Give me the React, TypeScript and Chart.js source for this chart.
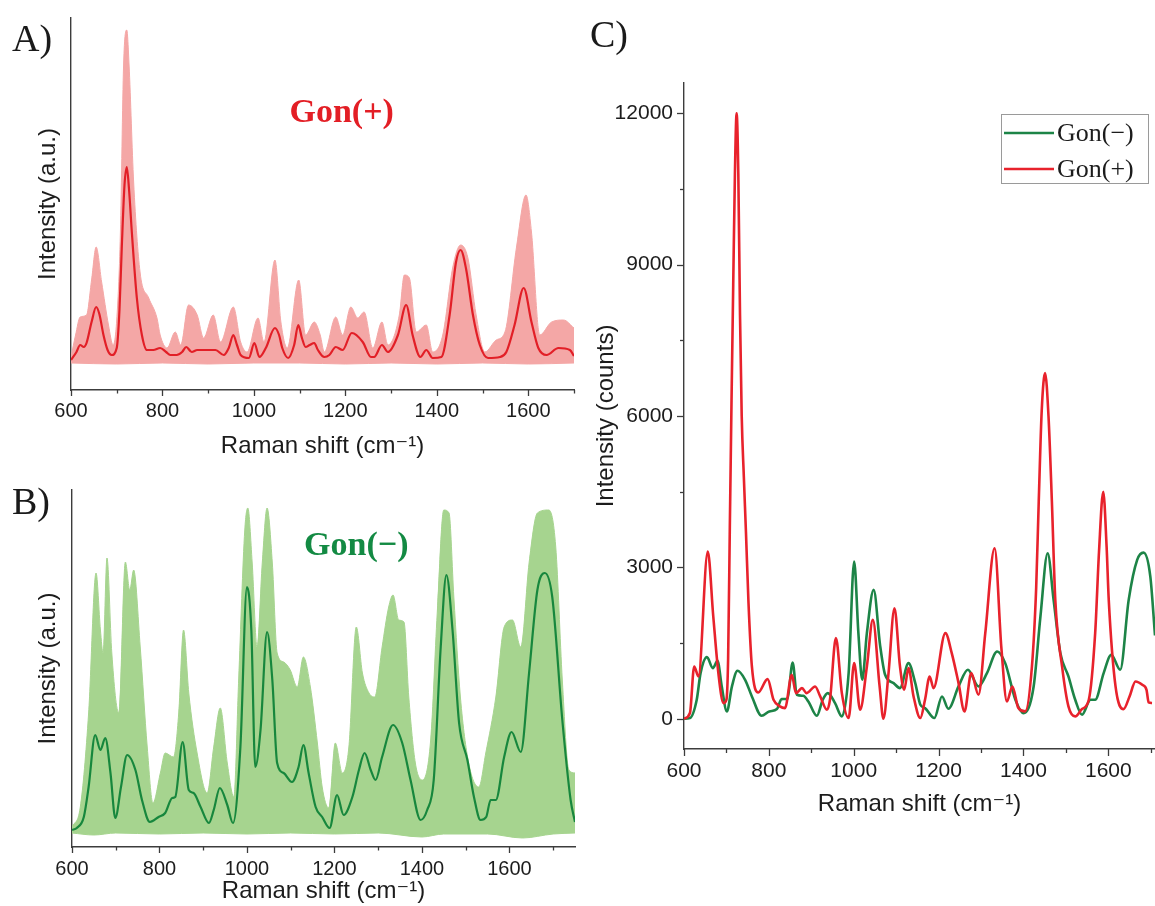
import React, { useEffect, useRef } from 'react';
import { Chart, registerables } from 'chart.js';

Chart.register(...registerables);

// ---------------- Panel A : Gon(+) individual spectra (a.u.) ----------------
const plusMeanShift = [600, 612, 620, 628, 634, 645, 655, 662, 671, 680, 689, 700, 706, 711, 717, 722, 727, 733, 744, 755, 766, 780, 795, 808, 817, 831, 843, 852, 864, 876, 898, 916, 934, 945, 955, 963, 971, 989, 1001, 1012, 1026, 1046, 1055, 1062, 1075, 1088, 1097, 1105, 1113, 1122, 1132, 1140, 1154, 1165, 1179, 1194, 1214, 1238, 1256, 1263, 1280, 1293, 1315, 1333, 1347, 1364, 1377, 1391, 1410, 1428, 1442, 1452, 1464, 1479, 1494, 1512, 1538, 1552, 1570, 1590, 1607, 1622, 1640, 1666, 1691, 1700];
const plusMeanInt = [0, 8, 15, 13, 17, 38, 53, 46, 25, 10, 5, 12, 50, 112, 175, 193, 170, 128, 62, 25, 10, 10, 12, 8, 5, 5, 8, 13, 8, 10, 10, 10, 5, 12, 25, 15, 5, 2, 17, 3, 12, 32, 25, 12, 2, 15, 35, 22, 13, 15, 17, 10, 3, 5, 13, 10, 27, 18, 3, 3, 15, 8, 25, 55, 25, 3, 10, 2, 3, 45, 98, 110, 91, 45, 15, 2, 3, 8, 35, 72, 38, 12, 5, 12, 10, 4];
const plusUpperShift = [600, 610, 620, 634, 645, 655, 667, 682, 692, 700, 708, 715, 722, 727, 737, 751, 770, 788, 795, 810, 828, 840, 857, 876, 890, 911, 927, 955, 971, 985, 1009, 1022, 1046, 1059, 1073, 1098, 1113, 1132, 1145, 1154, 1179, 1194, 1212, 1227, 1241, 1260, 1280, 1293, 1318, 1329, 1340, 1355, 1377, 1391, 1413, 1435, 1452, 1468, 1486, 1505, 1530, 1549, 1574, 1595, 1607, 1625, 1651, 1677, 1700];
const plusUpperInt = [3, 25, 43, 45, 80, 113, 78, 35, 15, 40, 127, 295, 330, 295, 178, 88, 62, 42, 25, 12, 28, 15, 55, 45, 22, 45, 18, 53, 18, 8, 42, 18, 100, 38, 12, 80, 25, 38, 25, 8, 43, 25, 53, 42, 48, 12, 38, 15, 45, 85, 82, 28, 35, 8, 25, 93, 115, 102, 45, 8, 20, 28, 112, 165, 128, 25, 38, 40, 32];
const plusLowerShift = [600, 700, 800, 900, 1000, 1100, 1200, 1300, 1400, 1500, 1600, 1700];
const plusLowerInt = [-3, -4, -3, -4, -3, -3, -4, -3, -4, -3, -4, -3];

// ---------------- Panel B : Gon(−) individual spectra (a.u.) ----------------
const minusMeanShift = [600, 611, 627, 638, 653, 665, 676, 688, 699, 712, 726, 745, 760, 778, 798, 813, 829, 836, 853, 867, 878, 894, 913, 924, 938, 955, 968, 985, 1000, 1010, 1019, 1031, 1046, 1058, 1069, 1084, 1103, 1118, 1129, 1141, 1157, 1172, 1189, 1206, 1221, 1241, 1256, 1269, 1283, 1294, 1309, 1334, 1355, 1374, 1397, 1412, 1427, 1443, 1456, 1470, 1485, 1504, 1519, 1534, 1547, 1557, 1569, 1588, 1605, 1626, 1645, 1664, 1681, 1698, 1721, 1740, 1750];
const minusMeanInt = [0, 2, 13, 43, 95, 80, 92, 57, 12, 43, 75, 60, 30, 8, 13, 17, 32, 33, 88, 40, 37, 23, 7, 20, 42, 25, 7, 83, 243, 200, 63, 100, 198, 150, 67, 57, 48, 63, 85, 57, 23, 13, 2, 35, 15, 33, 60, 77, 60, 50, 73, 105, 87, 50, 10, 20, 50, 183, 255, 200, 107, 70, 33, 10, 13, 30, 30, 73, 98, 78, 157, 240, 257, 233, 110, 30, 8];
const minusUpperShift = [600, 619, 638, 655, 665, 671, 680, 691, 707, 722, 732, 741, 756, 772, 785, 802, 813, 832, 844, 855, 867, 886, 909, 924, 939, 955, 970, 981, 995, 1002, 1012, 1023, 1035, 1046, 1058, 1069, 1084, 1099, 1115, 1129, 1145, 1161, 1172, 1187, 1202, 1218, 1233, 1250, 1264, 1279, 1292, 1309, 1324, 1334, 1347, 1359, 1370, 1385, 1401, 1420, 1435, 1450, 1462, 1473, 1488, 1507, 1530, 1546, 1569, 1588, 1607, 1626, 1645, 1664, 1690, 1706, 1721, 1736, 1750];
const minusUpperInt = [3, 23, 117, 257, 200, 177, 272, 177, 117, 268, 240, 260, 183, 83, 27, 57, 77, 73, 117, 200, 137, 77, 37, 83, 122, 67, 33, 150, 300, 322, 267, 183, 267, 322, 267, 177, 168, 160, 143, 173, 143, 87, 43, 22, 87, 57, 83, 203, 157, 137, 133, 183, 223, 235, 210, 208, 133, 67, 50, 90, 217, 320, 317, 233, 133, 67, 43, 77, 133, 203, 210, 183, 267, 317, 320, 283, 150, 60, 57];
const minusLowerShift = [600, 650, 700, 800, 900, 1000, 1100, 1200, 1300, 1400, 1450, 1550, 1630, 1700, 1750];
const minusLowerInt = [-3, -5, -3, -4, -3, -4, -3, -4, -3, -7, -4, -4, -8, -4, -3];

// ---------------- Panel C : average spectra (counts) ----------------
const cMinusShift = [600, 614, 630, 639, 654, 668, 679, 689, 701, 713, 726, 744, 760, 783, 801, 819, 830, 844, 856, 866, 881, 893, 913, 927, 939, 956, 972, 988, 1001, 1011, 1020, 1031, 1047, 1062, 1074, 1094, 1109, 1129, 1145, 1157, 1168, 1190, 1208, 1223, 1247, 1269, 1294, 1314, 1338, 1357, 1381, 1400, 1424, 1440, 1457, 1471, 1487, 1506, 1522, 1538, 1558, 1569, 1589, 1607, 1628, 1648, 1668, 1683, 1699, 1710];
const cMinusCounts = [0, 13, 376, 904, 1221, 1003, 1148, 640, 145, 640, 950, 772, 442, 59, 145, 191, 389, 396, 1115, 475, 455, 343, 59, 376, 508, 310, 46, 904, 3115, 1696, 772, 1696, 2554, 1465, 871, 706, 607, 1102, 706, 277, 211, 13, 442, 198, 640, 970, 640, 904, 1333, 1102, 376, 112, 640, 2026, 3280, 2356, 1300, 838, 376, 79, 376, 376, 904, 1267, 970, 2356, 3148, 3293, 2818, 1650];
const cPlusShift = [600, 614, 624, 634, 656, 669, 681, 693, 700, 704, 708, 712, 716, 720, 724, 728, 732, 736, 741, 746, 752, 760, 775, 797, 811, 826, 838, 854, 864, 878, 889, 909, 921, 937, 944, 958, 972, 988, 1001, 1015, 1031, 1045, 1061, 1070, 1082, 1096, 1109, 1119, 1129, 1141, 1157, 1168, 1179, 1188, 1216, 1231, 1247, 1261, 1277, 1294, 1310, 1332, 1348, 1361, 1374, 1388, 1404, 1420, 1430, 1436, 1443, 1451, 1459, 1467, 1475, 1491, 1506, 1522, 1538, 1554, 1569, 1578, 1588, 1596, 1601, 1617, 1636, 1650, 1664, 1680, 1690, 1695, 1703];
const cPlusCounts = [0, 113, 1036, 838, 3313, 2026, 904, 310, 380, 1200, 3800, 6300, 8600, 10800, 12000, 10800, 8000, 6000, 4800, 3700, 2300, 1036, 521, 785, 376, 244, 211, 871, 508, 607, 508, 640, 442, 178, 376, 1597, 508, 13, 1102, 178, 1036, 1960, 640, 0, 904, 2191, 1036, 574, 1003, 442, 13, 376, 838, 607, 1696, 1300, 706, 145, 904, 475, 1696, 3379, 1399, 343, 640, 211, 145, 1036, 2600, 4300, 6100, 6850, 6000, 4300, 2356, 1036, 244, 46, 191, 376, 1696, 3300, 4500, 3400, 2356, 640, 191, 442, 739, 673, 574, 323, 310];

// ---------------- ticks ----------------
const xTickValues = [600, 700, 800, 900, 1000, 1100, 1200, 1300, 1400, 1500, 1600, 1700];
const xTickLabels = [600, 800, 1000, 1200, 1400, 1600];
const yTickValuesC = [0, 1500, 3000, 4500, 6000, 7500, 9000, 10500, 12000];
const yTickLabelsC = [0, 3000, 6000, 9000, 12000];

const pts = (xs: number[], ys: number[]) => xs.map((x, i) => ({ x, y: ys[i] }));

const SANS = "'Liberation Sans', Arial, 'DejaVu Sans', sans-serif";
const SERIF = "'Liberation Serif', 'Times New Roman', 'DejaVu Serif', serif";
const AXIS = '#3c3c3c';
const TXT = '#1c1c1c';

function tickMarks(specs: any[]) {
  return {
    id: 'tickMarks',
    afterDraw(chart: any) {
      const ctx = chart.ctx;
      ctx.save();
      ctx.strokeStyle = AXIS;
      ctx.lineWidth = 1.3;
      for (const s of specs) {
        const scale = chart.scales[s.id];
        for (const t of scale.ticks) {
          const v = t.value;
          const len = s.labels.includes(v) ? s.major : s.minor;
          const p = Math.round(scale.getPixelForValue(v)) + 0.5;
          ctx.beginPath();
          if (scale.isHorizontal()) {
            ctx.moveTo(p, scale.top);
            ctx.lineTo(p, scale.top + len);
          } else {
            ctx.moveTo(scale.right, p);
            ctx.lineTo(scale.right - len, p);
          }
          ctx.stroke();
        }
      }
      ctx.restore();
    },
  };
}

function annotation(text: string, xv: number, yv: number, color: string, font: string) {
  return {
    id: 'annotation',
    afterDatasetsDraw(chart: any) {
      const ctx = chart.ctx;
      ctx.save();
      ctx.font = font;
      ctx.fillStyle = color;
      ctx.textAlign = 'center';
      ctx.textBaseline = 'middle';
      ctx.fillText(text, chart.scales.x.getPixelForValue(xv), chart.scales.y.getPixelForValue(yv));
      ctx.restore();
    },
  };
}

const legendC = {
  id: 'legendC',
  afterDraw(chart: any) {
    const ctx = chart.ctx;
    const { right, top } = chart.chartArea;
    const boxW = 147;
    const boxH = 69;
    const bx = right - 7 - boxW;
    const by = top + 31;
    ctx.save();
    ctx.fillStyle = '#ffffff';
    ctx.fillRect(bx, by, boxW, boxH);
    ctx.strokeStyle = '#9a9a9a';
    ctx.lineWidth = 1;
    ctx.strokeRect(bx + 0.5, by + 0.5, boxW, boxH);
    ctx.font = `26px ${SERIF}`;
    ctx.textBaseline = 'middle';
    ctx.textAlign = 'left';
    chart.data.datasets.forEach((ds: any, i: number) => {
      const y = by + 19 + i * 36;
      ctx.strokeStyle = ds.borderColor;
      ctx.lineWidth = 2.5;
      ctx.beginPath();
      ctx.moveTo(bx + 3, y);
      ctx.lineTo(bx + 53, y);
      ctx.stroke();
      ctx.fillStyle = TXT;
      ctx.fillText(ds.label, bx + 56, y + 1);
    });
    ctx.restore();
  },
};

function xScale(min: number, max: number, height: number, fontSize: number, pad: number, titlePad: number) {
  return {
    type: 'linear',
    min,
    max,
    afterBuildTicks: (s: any) => {
      s.ticks = xTickValues.map((value) => ({ value }));
    },
    afterFit: (s: any) => { s.height = height; },
    grid: { display: false, drawTicks: false },
    border: { display: true, color: AXIS, width: 1.4 },
    ticks: {
      autoSkip: false,
      maxRotation: 0,
      minRotation: 0,
      padding: pad,
      color: TXT,
      font: { family: SANS, size: fontSize },
      callback: (v: any) => (xTickLabels.includes(v) ? String(v) : ''),
    },
    title: {
      display: true,
      text: 'Raman shift (cm⁻¹)',
      color: TXT,
      font: { family: SANS, size: 24 },
      padding: { top: 0, bottom: titlePad },
    },
  };
}

function bandConfig(
  meanX: number[], meanY: number[], upX: number[], upY: number[], loX: number[], loY: number[],
  lineColor: string, bandColor: string, xMax: number, yMin: number, yMax: number,
  padding: any, yWidth: number, xHeight: number, tickPad: number, xTitlePad: number,
  plugins: any[]
) {
  return {
    type: 'line',
    data: {
      datasets: [
        {
          label: 'mean',
          data: pts(meanX, meanY),
          borderColor: lineColor,
          borderWidth: 2.2,
          pointRadius: 0,
          cubicInterpolationMode: 'monotone',
          fill: false,
          order: 0,
        },
        {
          label: 'upper',
          data: pts(upX, upY),
          borderColor: bandColor,
          borderWidth: 1,
          backgroundColor: bandColor,
          pointRadius: 0,
          cubicInterpolationMode: 'monotone',
          fill: '+1',
          order: 1,
        },
        {
          label: 'lower',
          data: pts(loX, loY),
          borderColor: bandColor,
          borderWidth: 1,
          pointRadius: 0,
          cubicInterpolationMode: 'monotone',
          fill: false,
          order: 2,
        },
      ],
    },
    options: {
      animation: false,
      responsive: false,
      devicePixelRatio: 1,
      layout: { padding },
      plugins: { legend: { display: false }, tooltip: { enabled: false } },
      scales: {
        x: xScale(600, xMax, xHeight, 20, tickPad, xTitlePad),
        y: {
          type: 'linear',
          min: yMin,
          max: yMax,
          afterFit: (s: any) => { s.width = yWidth; },
          grid: { display: false, drawTicks: false },
          border: { display: true, color: AXIS, width: 1.4 },
          ticks: { display: false },
          title: {
            display: true,
            text: 'Intensity (a.u.)',
            color: TXT,
            font: { family: SANS, size: 24 },
            padding: { top: 34, bottom: 0 },
          },
        },
      },
    },
    plugins,
  };
}

const configA = () =>
  bandConfig(
    plusMeanShift, plusMeanInt, plusUpperShift, plusUpperInt, plusLowerShift, plusLowerInt,
    '#e21f27', '#f4a7a6', 1700, -30, 342,
    { top: 18, right: 16, left: 0, bottom: 0 }, 71, 80, 9, 9,
    [
      tickMarks([{ id: 'x', labels: xTickLabels, major: 6, minor: 3.5 }]),
      annotation('Gon(+)', 1192, 247, '#e31e25', `bold 34px ${SERIF}`),
    ]
  );

const configB = () =>
  bandConfig(
    minusMeanShift, minusMeanInt, minusUpperShift, minusUpperInt, minusLowerShift, minusLowerInt,
    '#17873d', '#a6d48f', 1750, -17, 340,
    { top: 20, right: 15, left: 0, bottom: 0 }, 72, 59, 10, 0,
    [
      tickMarks([{ id: 'x', labels: xTickLabels, major: 6, minor: 3.5 }]),
      annotation('Gon(−)', 1250, 284, '#138a43', `bold 34px ${SERIF}`),
    ]
  );

const configC = () => ({
  type: 'line',
  data: {
    datasets: [
      {
        label: 'Gon(−)',
        data: pts(cMinusShift, cMinusCounts),
        borderColor: '#1d8447',
        borderWidth: 2.6,
        pointRadius: 0,
        cubicInterpolationMode: 'monotone',
        fill: false,
        order: 1,
      },
      {
        label: 'Gon(+)',
        data: pts(cPlusShift, cPlusCounts),
        borderColor: '#e8222c',
        borderWidth: 2.6,
        pointRadius: 0,
        cubicInterpolationMode: 'monotone',
        fill: false,
        order: 0,
      },
    ],
  },
  options: {
    animation: false,
    responsive: false,
    devicePixelRatio: 1,
    layout: { padding: { top: 83, right: 20, left: 0, bottom: 0 } },
    plugins: { legend: { display: false }, tooltip: { enabled: false } },
    scales: {
      x: xScale(600, 1710, 91, 21, 10, 21),
      y: {
        type: 'linear',
        min: -600,
        max: 12600,
        afterBuildTicks: (s: any) => {
          s.ticks = yTickValuesC.map((value) => ({ value }));
        },
        afterFit: (s: any) => { s.width = 94; },
        grid: { display: false, drawTicks: false },
        border: { display: true, color: AXIS, width: 1.4 },
        ticks: {
          autoSkip: false,
          padding: 11,
          color: TXT,
          font: { family: SANS, size: 21 },
          callback: (v: any) => (yTickLabelsC.includes(v) ? String(v) : ''),
        },
        title: {
          display: true,
          text: 'Intensity (counts)',
          color: TXT,
          font: { family: SANS, size: 24 },
          padding: { top: 2, bottom: 0 },
        },
      },
    },
  },
  plugins: [
    tickMarks([
      { id: 'x', labels: xTickLabels, major: 7, minor: 4 },
      { id: 'y', labels: yTickLabelsC, major: 7, minor: 4 },
    ]),
    legendC,
  ],
});

function ChartCanvas({ make, left, top, width, height }: any) {
  const ref = useRef<HTMLCanvasElement>(null);
  useEffect(() => {
    const chart = new Chart(ref.current as HTMLCanvasElement, make());
    return () => chart.destroy();
  }, []);
  return (
    <canvas
      ref={ref}
      width={width}
      height={height}
      style={{ position: 'absolute', left, top, width, height, display: 'block' }}
    />
  );
}

const panelLabel = (text: string, left: number, top: number) => (
  <div
    style={{
      position: 'absolute',
      left,
      top,
      fontFamily: SERIF,
      fontSize: 38,
      lineHeight: 1,
      color: '#1a1a1a',
      whiteSpace: 'nowrap',
    }}
  >
    {text}
  </div>
);

export default function App() {
  return (
    <div
      style={{
        position: 'absolute',
        left: 0,
        top: 0,
        width: 1155,
        height: 906,
        overflow: 'hidden',
        background: '#ffffff',
      }}
    >
      <ChartCanvas make={configA} left={0} top={0} width={590} height={470} />
      <ChartCanvas make={configB} left={0} top={470} width={590} height={436} />
      <ChartCanvas make={configC} left={590} top={0} width={585} height={840} />
      {panelLabel('A)', 12, 19)}
      {panelLabel('B)', 12, 482)}
      {panelLabel('C)', 590, 15)}
    </div>
  );
}
